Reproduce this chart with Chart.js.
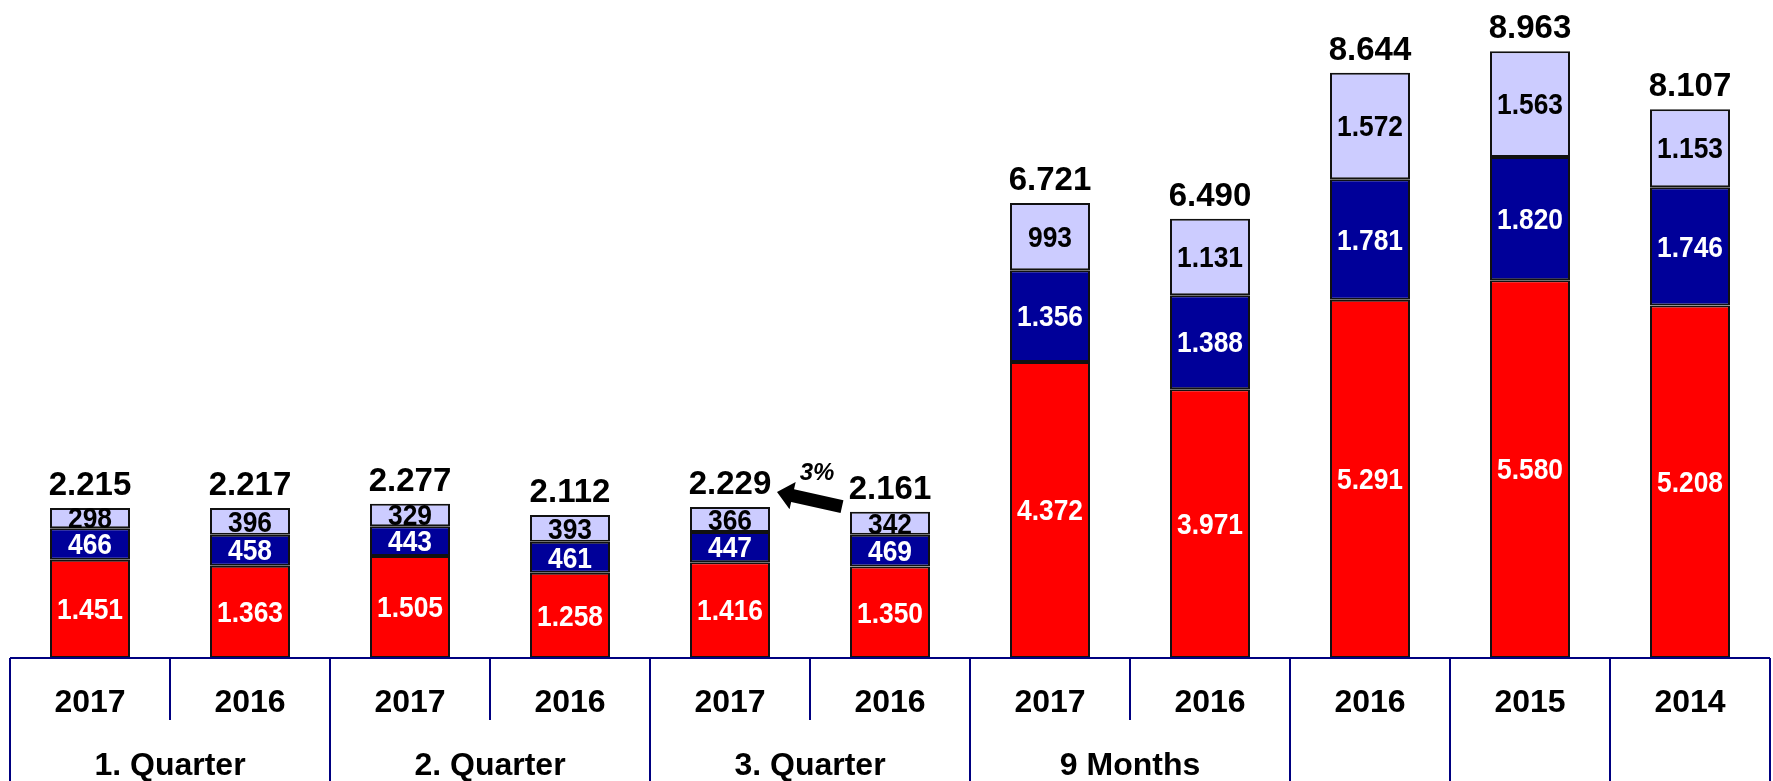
<!DOCTYPE html>
<html>
<head>
<meta charset="utf-8">
<script src="https://cdn.jsdelivr.net/npm/chart.js@4.4.1/dist/chart.umd.min.js"></script>
<style>
  html, body { margin: 0; padding: 0; background: #fff; }
  #wrap { width: 1773px; height: 781px; position: relative; }
</style>
</head>
<body>
<div id="wrap"><canvas id="salesChart"></canvas></div>
<script>
// chart values
const years = ['2017', '2016', '2017', '2016', '2017', '2016', '2017', '2016', '2016', '2015', '2014'];
const groupLabels = ['1. Quarter', '2. Quarter', '3. Quarter', '9 Months', '', '', ''];
const groupSizes = [2, 2, 2, 2, 1, 1, 1];
const redValues = [1451, 1363, 1505, 1258, 1416, 1350, 4372, 3971, 5291, 5580, 5208];
const blueValues = [466, 458, 443, 461, 447, 469, 1356, 1388, 1781, 1820, 1746];
const lilacValues = [298, 396, 329, 393, 366, 342, 993, 1131, 1572, 1563, 1153];
const totals = [2215, 2217, 2277, 2112, 2229, 2161, 6721, 6490, 8644, 8963, 8107];
const changeLabel = '3%';

const FONT = '"Liberation Sans", Arial, sans-serif';

function fmt(n) {
    return String(n).replace(/\B(?=(\d{3})+(?!\d))/g, '.');
}

// slightly narrowed text, like the original's font
function narrowText(ctx, text, x, y, sx) {
    ctx.save();
    ctx.translate(x, y);
    ctx.scale(sx, 1);
    ctx.fillText(text, 0, 0);
    ctx.restore();
}

// labels inside segments and totals above bars
const labelPlugin = {
    id: 'labelPlugin',
    afterDatasetsDraw(chart) {
        const ctx = chart.ctx;
        ctx.save();
        ctx.textAlign = 'center';
        ctx.textBaseline = 'middle';
        chart.data.datasets.forEach((ds, di) => {
            const meta = chart.getDatasetMeta(di);
            ctx.font = 'bold 30px ' + FONT;
            ctx.fillStyle = ds.labelColor;
            meta.data.forEach((bar, i) => {
                narrowText(ctx, fmt(ds.data[i]), bar.x, (bar.y + bar.base) / 2 + 2, 0.88);
            });
        });
        const top = chart.getDatasetMeta(chart.data.datasets.length - 1);
        ctx.font = 'bold 33px ' + FONT;
        ctx.fillStyle = '#000';
        ctx.textBaseline = 'alphabetic';
        top.data.forEach((bar, i) => {
            ctx.fillText(fmt(totals[i]), bar.x, bar.y - 13);
        });

        // arrow from 3. Quarter 2016 to 2017
        const a = top.data[4], b = top.data[5];
        const tipX = a.x + 47, tipY = a.y - 15;
        const tailX = b.x - 48, tailY = b.y - 5;
        const ang = Math.atan2(tipY - tailY, tipX - tailX);
        const headLen = 16, headW = 14, shaft = 6.5;
        const bx = tipX - headLen * Math.cos(ang), by = tipY - headLen * Math.sin(ang);
        const nx = -Math.sin(ang), ny = Math.cos(ang);
        ctx.beginPath();
        ctx.moveTo(tailX + nx * shaft, tailY + ny * shaft);
        ctx.lineTo(bx + nx * shaft, by + ny * shaft);
        ctx.lineTo(bx + nx * headW, by + ny * headW);
        ctx.lineTo(tipX, tipY);
        ctx.lineTo(bx - nx * headW, by - ny * headW);
        ctx.lineTo(bx - nx * shaft, by - ny * shaft);
        ctx.lineTo(tailX - nx * shaft, tailY - ny * shaft);
        ctx.closePath();
        ctx.fill();
        ctx.font = 'italic bold 24px ' + FONT;
        ctx.textBaseline = 'middle';
        ctx.fillText(changeLabel, (a.x + b.x) / 2 + 7, a.y - 34);
        ctx.restore();
    }
};

// category box under the bars
const axisPlugin = {
    id: 'axisPlugin',
    afterDraw(chart) {
        const ctx = chart.ctx;
        const x = chart.scales.x;
        const area = chart.chartArea;
        const step = (area.right - area.left) / years.length;
        const bottom = chart.height;
        ctx.save();
        ctx.strokeStyle = '#000080';
        ctx.lineWidth = 2;
        ctx.beginPath();
        ctx.moveTo(area.left, area.bottom);
        ctx.lineTo(area.right, area.bottom);
        ctx.stroke();

        // group boundaries
        let idx = 0;
        const groupEdges = [0];
        groupSizes.forEach(s => { idx += s; groupEdges.push(idx); });
        for (let i = 0; i <= years.length; i++) {
            const px = x.getPixelForValue(i) - step / 2;
            const full = groupEdges.includes(i);
            ctx.beginPath();
            ctx.moveTo(px, area.bottom);
            ctx.lineTo(px, full ? bottom : area.bottom + 62);
            ctx.stroke();
        }

        ctx.fillStyle = '#000';
        ctx.textAlign = 'center';
        ctx.textBaseline = 'middle';
        ctx.font = 'bold 32px ' + FONT;
        years.forEach((y, i) => {
            ctx.fillText(y, x.getPixelForValue(i), area.bottom + 45);
        });
        groupLabels.forEach((g, gi) => {
            if (!g) return;
            const first = groupEdges[gi], last = groupEdges[gi + 1] - 1;
            const cx = (x.getPixelForValue(first) + x.getPixelForValue(last)) / 2;
            ctx.fillText(g, cx, area.bottom + 108);
        });
        ctx.restore();
    }
};

const ctx = document.getElementById('salesChart').getContext('2d');
new Chart(ctx, {
    type: 'bar',
    data: {
        labels: years,
        datasets: [
            { data: redValues, backgroundColor: '#FF0000', labelColor: '#fff' },
            { data: blueValues, backgroundColor: '#000099', labelColor: '#fff' },
            { data: lilacValues, backgroundColor: '#CCCCFF', labelColor: '#000' }
        ].map(d => Object.assign(d, {
            borderColor: '#111',
            borderWidth: 2,
            borderSkipped: false,
            categoryPercentage: 1,
            barPercentage: 0.5
        }))
    },
    options: {
        responsive: true,
        maintainAspectRatio: false,
        animation: false,
        layout: { padding: { left: 10, right: 3, top: 0, bottom: 123 } },
        plugins: { legend: { display: false }, tooltip: { enabled: false } },
        scales: {
            x: { display: false, stacked: true },
            y: { display: false, stacked: true, min: 0, max: 9720 }
        }
    },
    plugins: [labelPlugin, axisPlugin]
});
</script>
</body>
</html>
